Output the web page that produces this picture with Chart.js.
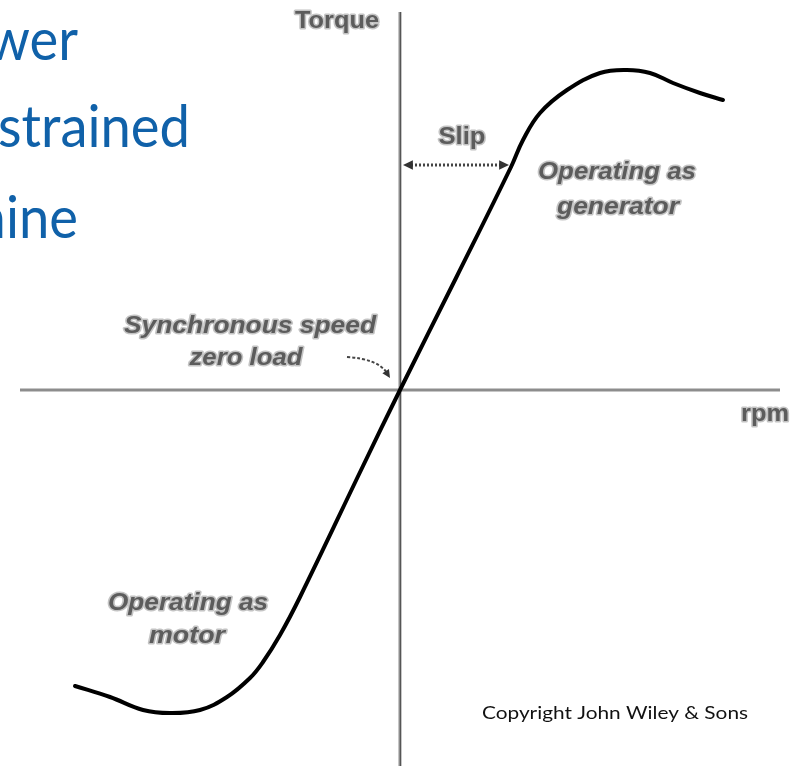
<!DOCTYPE html>
<html lang="en">
<head>
  <meta charset="UTF-8">
  <title>Torque vs rpm</title>
  <script src="https://cdn.jsdelivr.net/npm/chart.js"></script>
  <style>
    body {
      margin: 0;
      padding: 0;
      background: #fff;
    }
    canvas {
      display: block;
    }
  </style>
</head>
<body>
  <canvas id="graph" width="801" height="766"></canvas>

  <script>
    // curve (speed offset from synchronous, torque), arbitrary units
    const speed  = [-325, -290, -257, -230, -200, -173, -150, -137, -120, -100, -37, 0, 56, 111, 123, 140, 167, 200, 227, 250, 273, 300, 323];
    const torque = [-296, -307, -320, -323, -320, -307, -288, -272, -245, -207, -76, 0, 112, 223, 250, 277, 300, 317, 320, 317, 307, 297, 290];

    // axis extents
    const xMin = -400, xMax = 401;
    const yMin = -376, yMax = 390;
    const xAxisFrom = -380, xAxisTo = 380;
    const yAxisTop = 378;

    // slip arrow (from axis to curve) at this torque
    const slipY = 225, slipFrom = 3, slipTo = 109;

    // text labels: text, x, y (centre, data units), font, target width
    const labelText = ['Torque', 'Slip', 'Operating as', 'generator', 'Synchronous speed', 'zero load', 'rpm', 'Operating as', 'motor'];
    const labelX    = [-63, 62, 217, 218, -150, -154, 365, -212, -213];
    const labelY    = [369, 253, 218, 183, 64, 32, -24, -213, -246];
    const labelItal = [false, false, true, true, true, true, false, true, true];
    const labelW    = [84, 47, 158, 122, 252, 113, 48, 160, 76];

    const slideLines = ['wer', 'strained', 'nine'];
    const slideRight = [78, 190, 78];
    const slideBase  = [60, 147, 238];

    const copyright = 'Copyright John Wiley & Sons';

    const pts = speed.map((x, i) => ({ x: x, y: torque[i] }));

    function fitText(ctx, text, x, y, width, align) {
      const m = ctx.measureText(text).width;
      ctx.save();
      ctx.translate(x, y);
      ctx.scale(width / m, 1);
      ctx.textAlign = align;
      ctx.fillText(text, 0, 0);
      ctx.restore();
    }

    function arrowHead(ctx, x, y, ang, len) {
      ctx.beginPath();
      ctx.moveTo(x, y);
      ctx.lineTo(x - len * Math.cos(ang - 0.45), y - len * Math.sin(ang - 0.45));
      ctx.lineTo(x - len * Math.cos(ang + 0.45), y - len * Math.sin(ang + 0.45));
      ctx.closePath();
      ctx.fill();
    }

    const decor = {
      id: 'decor',
      beforeDatasetsDraw(chart) {
        const ctx = chart.ctx;
        const sx = chart.scales.x, sy = chart.scales.y;
        const x0 = sx.getPixelForValue(0), y0 = sy.getPixelForValue(0);
        ctx.save();
        ctx.strokeStyle = '#8d8d8d';
        ctx.lineWidth = 3;
        ctx.beginPath();
        ctx.moveTo(sx.getPixelForValue(xAxisFrom), y0);
        ctx.lineTo(sx.getPixelForValue(xAxisTo), y0);
        ctx.stroke();
        ctx.beginPath();
        ctx.moveTo(x0, sy.getPixelForValue(yAxisTop));
        ctx.lineTo(x0, sy.getPixelForValue(yMin));
        ctx.stroke();
        ctx.strokeStyle = '#555';
        ctx.lineWidth = 1;
        ctx.beginPath();
        ctx.moveTo(x0 + 0.5, sy.getPixelForValue(yAxisTop));
        ctx.lineTo(x0 + 0.5, sy.getPixelForValue(yMin));
        ctx.stroke();
        ctx.restore();
      },
      afterDatasetsDraw(chart) {
        const ctx = chart.ctx;
        const sx = chart.scales.x, sy = chart.scales.y;
        ctx.save();

        // slip arrow
        const ay = sy.getPixelForValue(slipY);
        const ax1 = sx.getPixelForValue(slipFrom), ax2 = sx.getPixelForValue(slipTo);
        ctx.strokeStyle = '#444';
        ctx.fillStyle = '#333';
        ctx.lineWidth = 3;
        ctx.setLineDash([2, 2]);
        ctx.beginPath();
        ctx.moveTo(ax1 + 8, ay);
        ctx.lineTo(ax2 - 8, ay);
        ctx.stroke();
        ctx.setLineDash([]);
        arrowHead(ctx, ax1, ay, Math.PI, 11);
        arrowHead(ctx, ax2, ay, 0, 11);

        // synchronous speed pointer
        const px1 = sx.getPixelForValue(-53), py1 = sy.getPixelForValue(33);
        const cx = sx.getPixelForValue(-22), cy = sy.getPixelForValue(31);
        const px2 = sx.getPixelForValue(-10), py2 = sy.getPixelForValue(12);
        ctx.lineWidth = 2;
        ctx.setLineDash([3, 2]);
        ctx.beginPath();
        ctx.moveTo(px1, py1);
        ctx.quadraticCurveTo(cx, cy, px2 - 3, py2 - 5);
        ctx.stroke();
        ctx.setLineDash([]);
        arrowHead(ctx, px2, py2, Math.atan2(py2 - cy, px2 - cx), 9);

        // grey figure labels
        ctx.textBaseline = 'middle';
        labelText.forEach((t, i) => {
          ctx.font = (labelItal[i] ? 'italic ' : '') + 'bold 24px "Liberation Sans", Arial, sans-serif';
          const lx = sx.getPixelForValue(labelX[i]), ly = sy.getPixelForValue(labelY[i]);
          const m = ctx.measureText(t).width;
          ctx.save();
          ctx.translate(lx, ly);
          ctx.scale(labelW[i] / m, 1);
          ctx.textAlign = 'center';
          ctx.lineJoin = 'round';
          ctx.strokeStyle = '#c4c4c4';
          ctx.lineWidth = 3;
          ctx.strokeText(t, 0, 0);
          ctx.fillStyle = '#5c5c5c';
          ctx.fillText(t, 0, 0);
          ctx.restore();
        });

        // copyright
        ctx.fillStyle = '#111';
        ctx.font = '17px Lato, "Open Sans", sans-serif';
        fitText(ctx, copyright, 482, 714, 266, 'left');

        // slide text cut at the left edge
        ctx.textBaseline = 'alphabetic';
        ctx.fillStyle = '#1061a9';
        ctx.font = '58px Lato, "Noto Sans", sans-serif';
        const k = 192 / ctx.measureText('strained').width;
        slideLines.forEach((t, i) => {
          const w = ctx.measureText(t).width * k;
          fitText(ctx, t, slideRight[i], slideBase[i], w, 'right');
        });
        ctx.restore();
      }
    };

    const ctx = document.getElementById('graph').getContext('2d');
    const chart = new Chart(ctx, {
      type: 'scatter',
      data: {
        datasets: [{
          label: 'Torque',
          data: pts,
          showLine: true,
          borderColor: '#000',
          borderWidth: 4,
          tension: 0.4,
          pointRadius: 0,
          borderCapStyle: 'round',
          borderJoinStyle: 'round'
        }]
      },
      options: {
        responsive: false,
        animation: false,
        devicePixelRatio: 1,
        layout: { padding: 0 },
        plugins: {
          legend: { display: false },
          tooltip: { enabled: false }
        },
        scales: {
          x: { type: 'linear', min: xMin, max: xMax, display: false },
          y: { type: 'linear', min: yMin, max: yMax, display: false }
        }
      },
      plugins: [decor]
    });
  </script>
</body>
</html>
